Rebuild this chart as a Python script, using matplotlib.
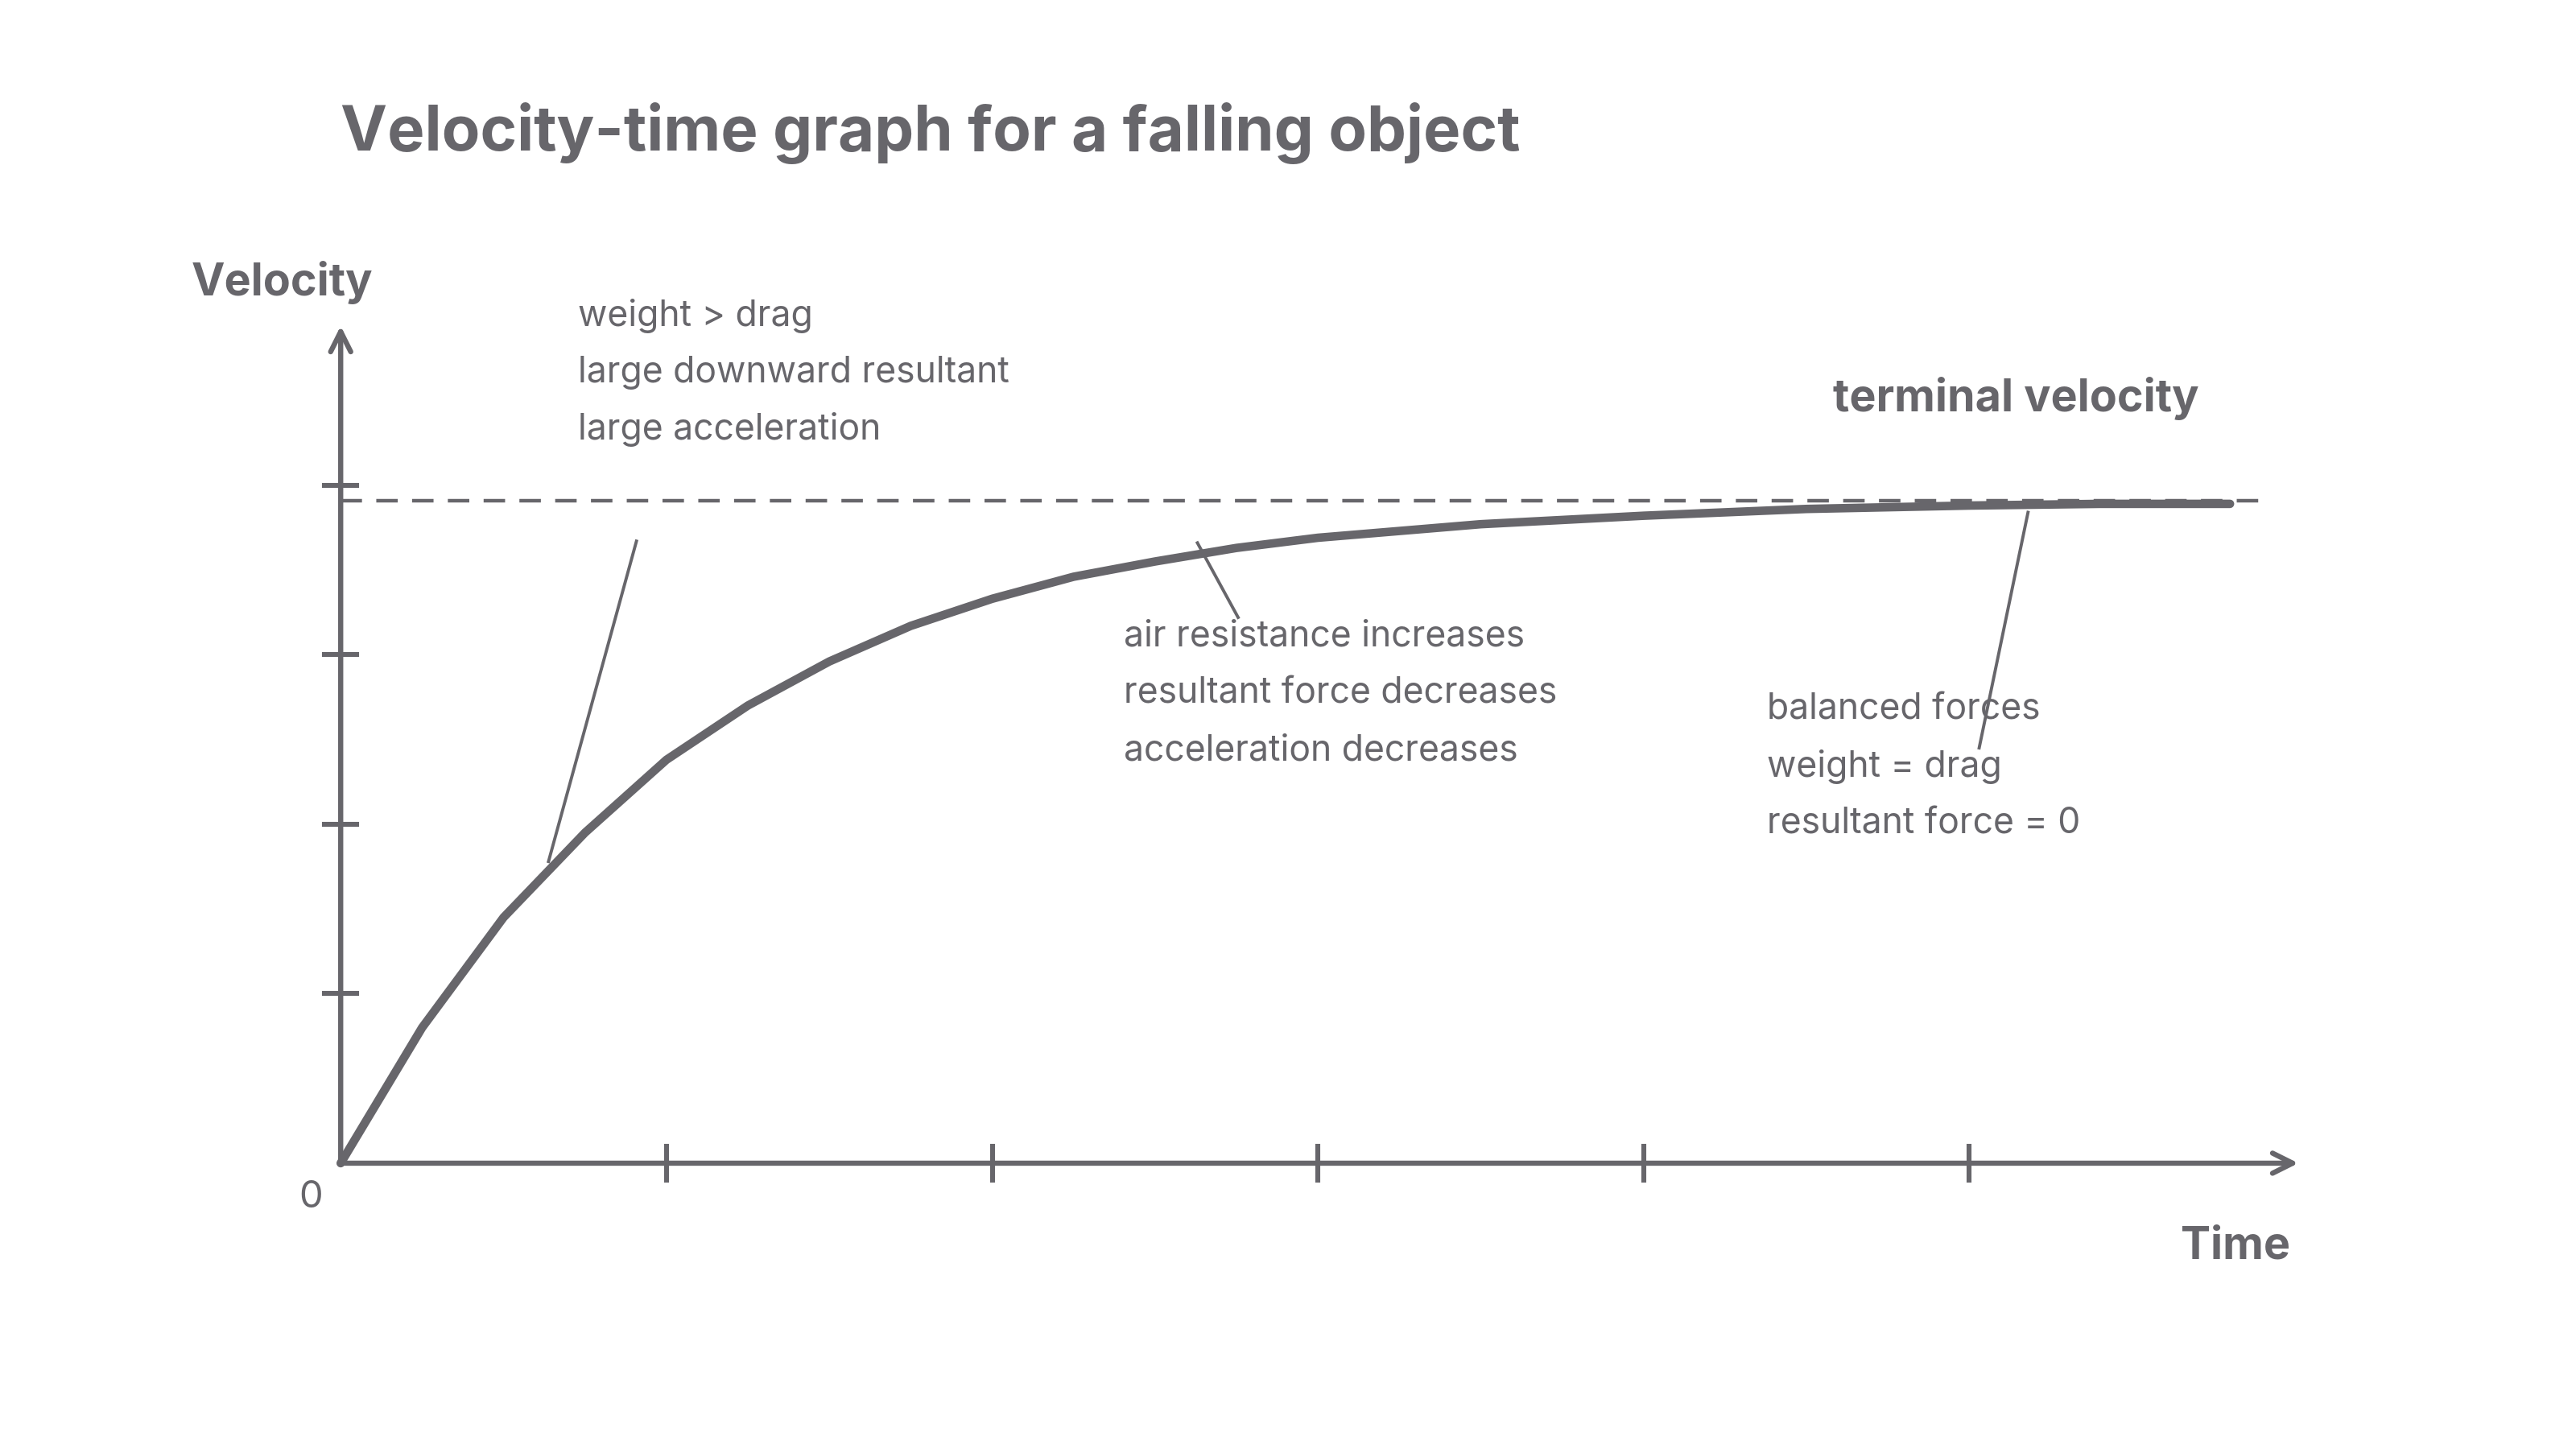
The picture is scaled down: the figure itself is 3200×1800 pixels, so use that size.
import matplotlib.pyplot as plt

plt.rcParams['font.family'] = ['Inter', 'DejaVu Sans']

# velocity (time units = x ticks, velocity units = y ticks)
time = [0, 0.25, 0.5, 0.75, 1.0, 1.25, 1.5, 1.75, 2.0, 2.25, 2.5, 2.75, 3.0, 3.5, 4.0, 4.5, 5.0, 5.4, 5.8]
velocity = [0, 0.80, 1.45, 1.95, 2.38, 2.70, 2.96, 3.17, 3.33, 3.46, 3.55, 3.63, 3.69, 3.77, 3.82, 3.86, 3.88, 3.89, 3.89]
terminal = 3.91
x_ticks = [1, 2, 3, 4, 5]
y_ticks = [1, 2, 3, 4]

grey = '#67666b'
W, H = 1550, 872  # layout measured in reference pixels

fig = plt.figure(figsize=(16, 9), dpi=200)
ax = fig.add_axes([0, 0, 1, 1])
ax.set_xlim(-205 / 196, (W - 205) / 196)
ax.set_ylim(-(H - 700) / 102, 700 / 102)
ax.axis('off')

# axes with open arrow heads
arrow = dict(arrowstyle='->,head_length=0.9,head_width=0.45', color=grey, lw=2.3,
             shrinkA=0, shrinkB=0)
ax.annotate('', xy=(6.01, 0), xytext=(0, 0), arrowprops=arrow)
ax.annotate('', xy=(0, 4.94), xytext=(0, 0), arrowprops=arrow)
for t in x_ticks:
    ax.plot([t, t], [-0.1, 0.1], color=grey, lw=2.2)
for v in y_ticks:
    ax.plot([-0.05, 0.05], [v, v], color=grey, lw=2.2)

ax.plot([0, 5.9], [terminal, terminal], color=grey, lw=1.6, dashes=(6, 4))
ax.plot(time, velocity, color=grey, lw=3.8, solid_capstyle='round')

# pointer lines
ax.plot([0.908, 0.638], [3.67, 1.78], color=grey, lw=1.4)
ax.plot([2.63, 2.755], [3.66, 3.22], color=grey, lw=1.4)
ax.plot([5.18, 5.03], [3.84, 2.45], color=grey, lw=1.4)

def ftext(x, y, s, **kw):
    fig.text(x / W, 1 - y / H, s, color=grey, va='center', **kw)

ftext(205, 80, 'Velocity-time graph for a falling object', fontsize=28, fontweight='bold')
ftext(170, 170, 'Velocity', fontsize=20, fontweight='bold', ha='center')
ftext(1378, 750, 'Time', fontsize=20, fontweight='bold', ha='right')
ftext(187, 721, '0', fontsize=17, ha='center')
ftext(1103, 240, 'terminal velocity', fontsize=20, fontweight='bold')

blocks = [
    (348, 190, ['weight > drag', 'large downward resultant', 'large acceleration']),
    (676, 383, ['air resistance increases', 'resultant force decreases', 'acceleration decreases']),
    (1063, 427, ['balanced forces', 'weight = drag', 'resultant force = 0']),
]
for x, y, lines in blocks:
    for i, s in enumerate(lines):
        ftext(x, y + 34.3 * i, s, fontsize=16)

fig.savefig('out.png', dpi=200, facecolor='white')
